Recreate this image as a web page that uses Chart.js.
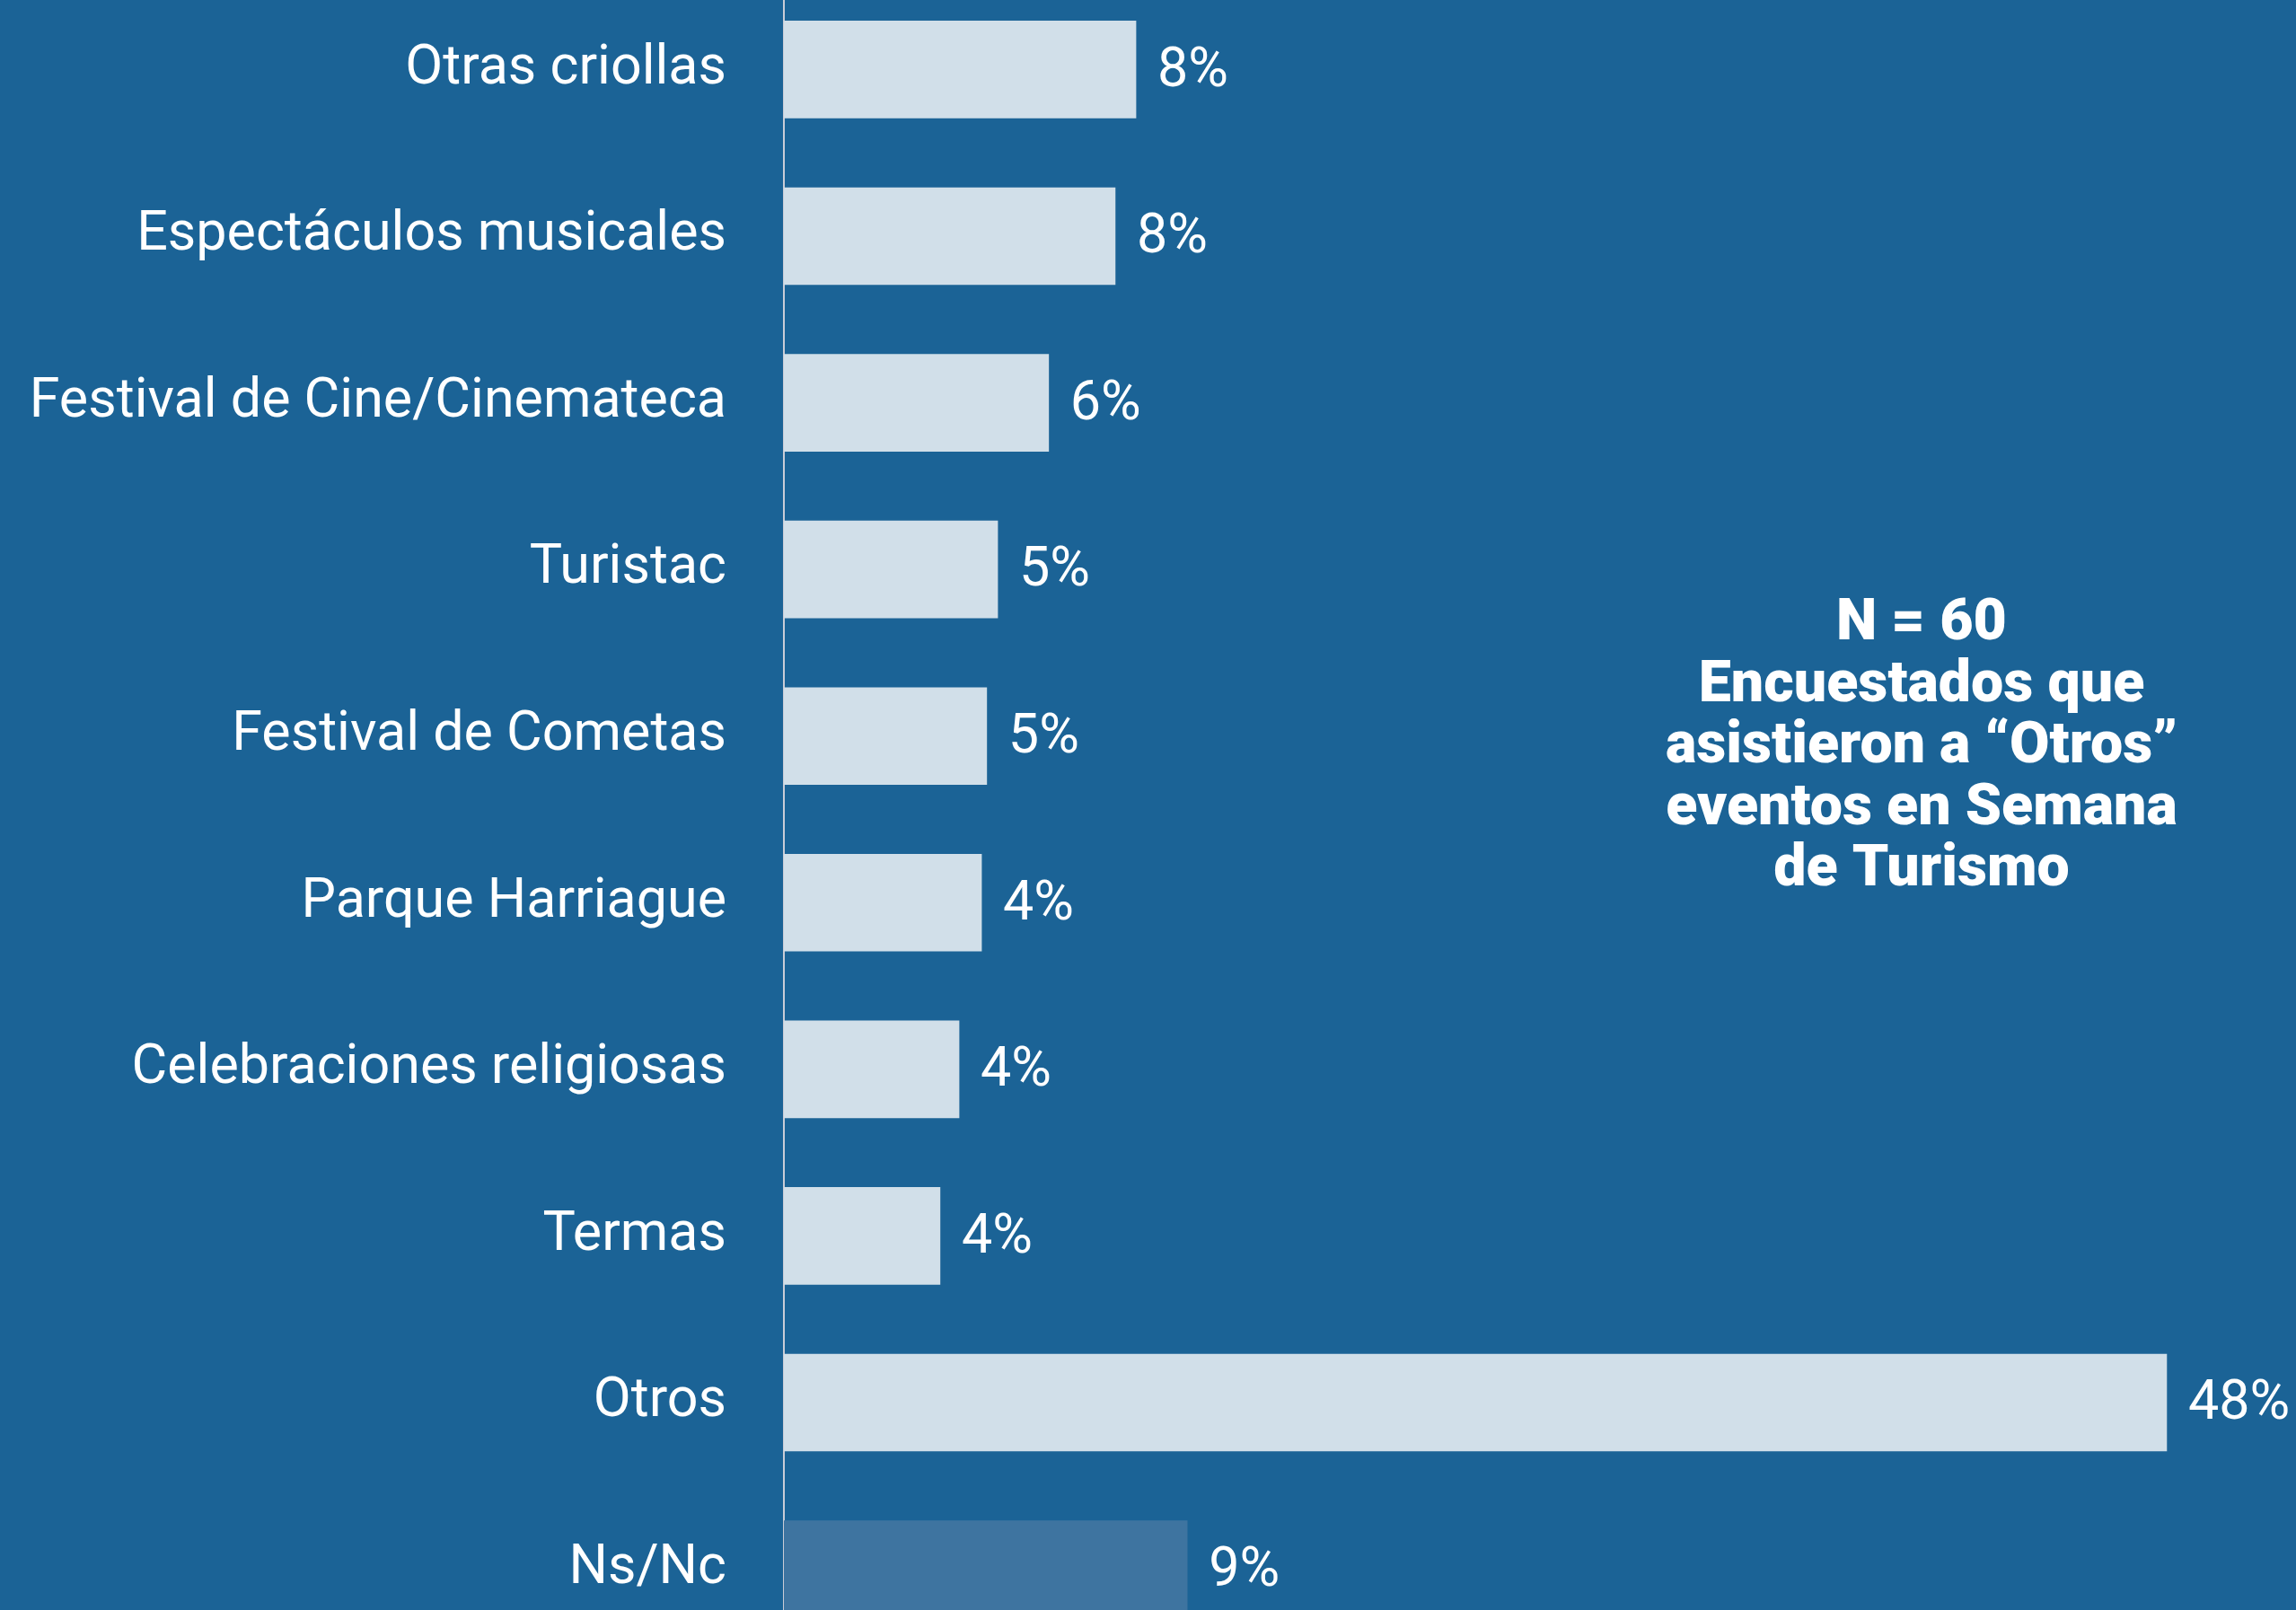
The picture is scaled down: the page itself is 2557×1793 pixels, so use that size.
<!DOCTYPE html>
<html lang="es">
<head>
<meta charset="utf-8">
<title>Otros eventos - Semana de Turismo</title>
<script src="https://cdn.jsdelivr.net/npm/chart.js@4.4.1/dist/chart.umd.min.js"></script>
<style>
  html, body {
    margin: 0;
    padding: 0;
    width: 2557px;
    height: 1793px;
    overflow: hidden;
    background: #1b6396;
  }
  /* canvas is taller than the page: the axis adds label padding top and bottom,
     and the last bar is cut off at the bottom edge like in the original */
  #wrap {
    position: absolute;
    left: 0;
    top: -116px;
  }
</style>
</head>
<body>
<div id="wrap">
  <canvas id="eventsChart" width="2557" height="2057"></canvas>
</div>
<script>
// Categories, top to bottom
const categories = [
  'Otras criollas',
  'Espectáculos musicales',
  'Festival de Cine/Cinemateca',
  'Turistac',
  'Festival de Cometas',
  'Parque Harriague',
  'Celebraciones religiosas',
  'Termas',
  'Otros',
  'Ns/Nc'
];

// Percent shown next to each bar
const pctLabels = [8, 8, 6, 5, 5, 4, 4, 4, 48, 9];

// Bar lengths as drawn in the picture (same % scale as the 48% bar)
const barLengths = [12.22, 11.5, 9.19, 7.42, 7.04, 6.86, 6.08, 5.42, 48, 14.0];

// Note text on the right
const noteLines = [
  'N = 60',
  'Encuestados que',
  'asistieron a “Otros”',
  'eventos en Semana',
  'de Turismo'
];

const FONT = 'Roboto, "Noto Sans", sans-serif';

// Draw the % value after each bar
const valueLabels = {
  id: 'valueLabels',
  afterDatasetsDraw(chart) {
    const ctx = chart.ctx;
    const meta = chart.getDatasetMeta(0);
    ctx.save();
    ctx.fillStyle = '#ffffff';
    ctx.font = `61px ${FONT}`;
    ctx.textAlign = 'left';
    ctx.textBaseline = 'middle';
    meta.data.forEach((bar, i) => {
      ctx.fillText(pctLabels[i] + '%', bar.x + 24, bar.y + 3);
    });
    ctx.restore();
  }
};

// Bold note block, centred on the right side
const noteText = {
  id: 'noteText',
  afterDraw(chart) {
    const ctx = chart.ctx;
    ctx.save();
    ctx.fillStyle = '#ffffff';
    ctx.font = `900 64.5px ${FONT}`;
    ctx.textAlign = 'center';
    ctx.textBaseline = 'alphabetic';
    // page is offset by the wrapper, so add it back here
    noteLines.forEach((line, i) => {
      ctx.fillText(line, 2140, 712 + 116 + i * 68.5);
    });
    ctx.restore();
  }
};

const canvas = document.getElementById('eventsChart');

new Chart(canvas.getContext('2d'), {
  type: 'bar',
  data: {
    labels: categories,
    datasets: [{
      data: barLengths,
      backgroundColor: (c) => c.dataIndex === categories.length - 1 ? '#3e74a0' : '#d1dfe9',
      borderWidth: 0,
      barThickness: 108
    }]
  },
  options: {
    indexAxis: 'y',
    responsive: false,
    animation: false,
    devicePixelRatio: 1,
    layout: { padding: 0 },
    plugins: {
      legend: { display: false },
      tooltip: { enabled: false },
      title: { display: false }
    },
    scales: {
      x: {
        min: 0,
        max: 52.49,
        display: false,
        grid: { display: false }
      },
      y: {
        grid: { display: false, drawTicks: false },
        border: { display: true, color: '#c9ccd6', width: 2 },
        ticks: {
          color: '#ffffff',
          padding: 64,
          font: { family: FONT, size: 61 }
        },
        afterFit: (scale) => { scale.width = 873; }
      }
    }
  },
  plugins: [valueLabels, noteText]
});
</script>
</body>
</html>
